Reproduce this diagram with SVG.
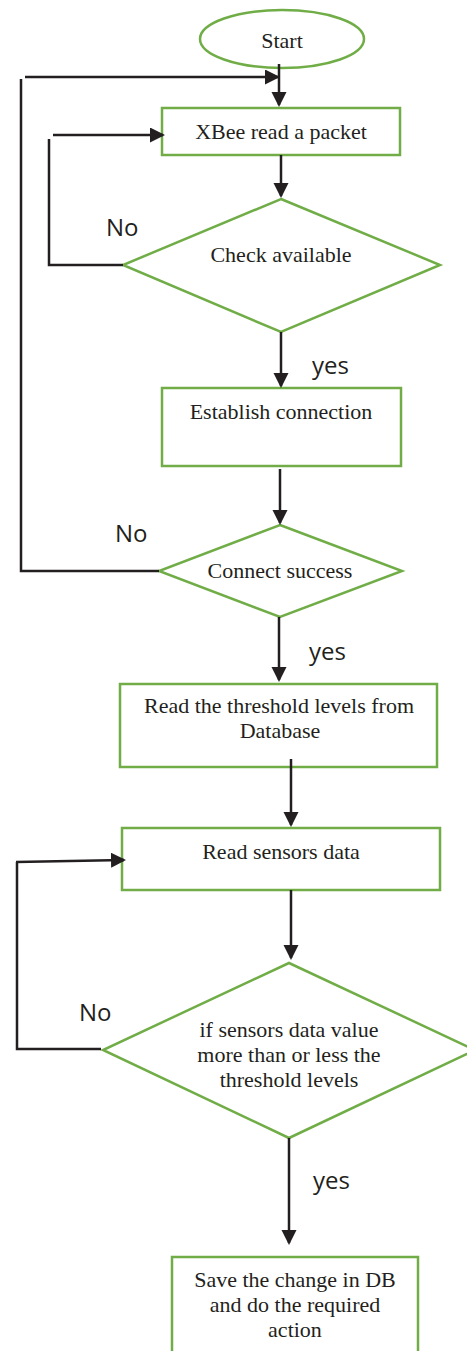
<svg xmlns="http://www.w3.org/2000/svg" width="467" height="1351" viewBox="0 0 467 1351">
  <style>
    .shape { fill: #ffffff; stroke: #70ad47; stroke-width: 2.5; }
    .node-text { font-family: "Liberation Serif", "Times New Roman", serif; font-size: 22px; fill: #231f20; text-anchor: middle; }
    .label { font-family: "Open Sans", "Liberation Sans", sans-serif; font-size: 24px; fill: #231f20; }
    .flow { fill: none; stroke: #231f20; stroke-width: 2.5; }
  </style>
  <defs>
    <marker id="arrow" markerUnits="userSpaceOnUse" markerWidth="16" markerHeight="16" refX="13" refY="7.5" orient="auto">
      <path d="M0,0 L15,7.5 L0,15 z" fill="#231f20"/>
    </marker>
  </defs>
  <rect width="467" height="1351" fill="#ffffff"/>

  <g id="start">
    <ellipse class="shape" cx="282" cy="39" rx="82" ry="29"/>
    <text class="node-text" x="282" y="48">Start</text>
  </g>

  <g id="xbee-read">
    <rect class="shape" x="162" y="108" width="238" height="47"/>
    <text class="node-text" x="281" y="139">XBee read a packet</text>
  </g>

  <g id="check-available">
    <polygon class="shape" points="281,199 440,265 281,332 123,265"/>
    <text class="node-text" x="281" y="262">Check available</text>
  </g>

  <g id="establish-connection">
    <rect class="shape" x="162" y="388" width="239" height="78"/>
    <text class="node-text" x="281" y="419">Establish connection</text>
  </g>

  <g id="connect-success">
    <polygon class="shape" points="280,525 402,571 280,617 159,571"/>
    <text class="node-text" x="280" y="578">Connect success</text>
  </g>

  <g id="read-threshold">
    <rect class="shape" x="120" y="684" width="317" height="83"/>
    <text class="node-text" x="279" y="713">Read the threshold levels from</text>
    <text class="node-text" x="280" y="738">Database</text>
  </g>

  <g id="read-sensors">
    <rect class="shape" x="122" y="828" width="318" height="62"/>
    <text class="node-text" x="281" y="859">Read sensors data</text>
  </g>

  <g id="threshold-check">
    <polygon class="shape" points="289,963 475,1050 289,1138 103,1050"/>
    <text class="node-text" x="289" y="1037">if sensors data value</text>
    <text class="node-text" x="289" y="1062">more than or less the</text>
    <text class="node-text" x="289" y="1087">threshold levels</text>
  </g>

  <g id="save-change">
    <rect class="shape" x="172" y="1257" width="246" height="110"/>
    <text class="node-text" x="295" y="1287">Save the change in DB</text>
    <text class="node-text" x="295" y="1312">and do the required</text>
    <text class="node-text" x="295" y="1337">action</text>
  </g>

  <g id="connectors">
    <path class="flow" d="M279,64 V105" marker-end="url(#arrow)"/>
    <path class="flow" d="M25,77 H278" marker-end="url(#arrow)"/>
    <path class="flow" d="M159,571 H21 V79"/>
    <path class="flow" d="M281,155 V196" marker-end="url(#arrow)"/>
    <path class="flow" d="M123,265 H49 V139"/>
    <path class="flow" d="M53,135 H163" marker-end="url(#arrow)"/>
    <path class="flow" d="M281,332 V386" marker-end="url(#arrow)"/>
    <path class="flow" d="M280,469 V523" marker-end="url(#arrow)"/>
    <path class="flow" d="M279,617 V680" marker-end="url(#arrow)"/>
    <path class="flow" d="M291,759 V825" marker-end="url(#arrow)"/>
    <path class="flow" d="M291,890 V958" marker-end="url(#arrow)"/>
    <path class="flow" d="M101,1049 H17 V862"/>
    <path class="flow" d="M16,862 L124,860" marker-end="url(#arrow)"/>
    <path class="flow" d="M289,1138 V1243" marker-end="url(#arrow)"/>
  </g>

  <g id="branch-labels">
    <text class="label" x="106" y="236">No</text>
    <text class="label" x="312" y="374">yes</text>
    <text class="label" x="115" y="542">No</text>
    <text class="label" x="309" y="660">yes</text>
    <text class="label" x="79" y="1021">No</text>
    <text class="label" x="313" y="1189">yes</text>
  </g>
</svg>
